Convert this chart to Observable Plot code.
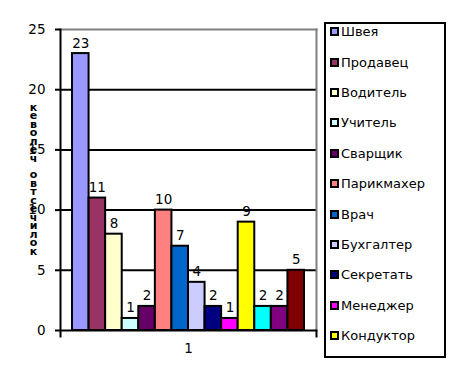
<!DOCTYPE html>
<html>
<head>
<meta charset="utf-8">
<script src="https://cdn.jsdelivr.net/npm/d3@7"></script>
<script src="https://cdn.jsdelivr.net/npm/@observablehq/plot@0.6"></script>
<style>
  html, body { margin: 0; padding: 0; background: #fff; }
  #wrap { position: relative; width: 452px; height: 380px; overflow: hidden; }
  #legend { position: absolute; left: 324px; top: 22px; width: 122px; height: 336px; box-sizing: border-box;
            border: 2px solid #000; background: #fff; font-family: "DejaVu Sans", sans-serif; font-size: 13px; }
  .item { position: absolute; left: 4px; height: 16px; display: flex; align-items: center; white-space: nowrap; }
  .sw { width: 5px; height: 5px; border: 2px solid #000; margin-right: 2px; }
</style>
</head>
<body>
<div id="wrap"></div>
<script>
const categories = ["Швея","Продавец","Водитель","Учитель","Сварщик","Парикмахер","Врач","Бухгалтер","Секретать","Менеджер","Кондуктор","Ряд12","Ряд13","Ряд14"];
const values = [23, 11, 8, 1, 2, 10, 7, 4, 2, 1, 9, 2, 2, 5];
const colors = ["#9999FF","#993366","#FFFFCC","#CCFFFF","#660066","#FF8080","#0066CC","#CCCCFF","#000080","#FF00FF","#FFFF00","#00FFFF","#800080","#800000"];
const legendNames = categories.slice(0, 11);
const yTicks = [0, 5, 10, 15, 20, 25];
const gridValues = [5, 10, 15, 20];
const xLabel = "1";
const yLabel = "кеволеч овтсечилок";

const data = categories.map((name, i) => ({name, value: values[i]}));

const W = 452, H = 380, mL = 60, mR = 136, mT = 29, mB = 50;
const font = "DejaVu Sans";

const chart = Plot.plot({
  width: W, height: H,
  marginLeft: mL, marginRight: mR, marginTop: mT, marginBottom: mB,
  style: {fontFamily: font, fontSize: "13.5px", background: "#fff", color: "#000"},
  x: {domain: categories, paddingInner: 0, paddingOuter: 0.725, round: false, axis: null},
  y: {domain: [0, 25], axis: null},
  color: {domain: categories, range: colors},
  marks: [
    Plot.ruleY(gridValues, {stroke: "#000", strokeWidth: 2}),
    Plot.frame({anchor: "top", stroke: "#808080", strokeWidth: 2}),
    Plot.frame({anchor: "right", stroke: "#808080", strokeWidth: 2}),
    Plot.barY(data, {x: "name", y: "value", fill: "name", stroke: "#000", strokeWidth: 2}),
    Plot.ruleY([0], {stroke: "#000", strokeWidth: 2}),
    Plot.frame({anchor: "left", stroke: "#000", strokeWidth: 2, insetBottom: -6}),
    Plot.frame({anchor: "right", stroke: "#000", strokeWidth: 2, insetTop: H - mT - mB, insetBottom: -6}),
    Plot.axisY({ticks: yTicks, tickSize: 5, tickPadding: 10, strokeWidth: 2, fontSize: 13.5, label: null, tickFormat: d => String(d)}),
    Plot.text(data, {x: "name", y: "value", text: d => String(d.value), lineAnchor: "bottom", dy: -6, fontSize: 13.5, fill: "#000"}),
    Plot.text([yLabel], {text: d => d.split("").join("\n"), frameAnchor: "left", dx: -27, textAnchor: "middle", lineAnchor: "middle", fontWeight: "bold", fontSize: 11, lineHeight: 0.77, fill: "#000"}),
    Plot.text([xLabel], {text: d => d, frameAnchor: "bottom", dy: 18, lineAnchor: "middle", fontSize: 13.5, fill: "#000"})
  ]
});
document.getElementById("wrap").appendChild(chart);

const legend = document.createElement("div");
legend.id = "legend";
legendNames.forEach((name, i) => {
  const item = document.createElement("div");
  item.className = "item";
  const center = 31.7 + 30.4 * i;   // absolute y of the entry's centre
  item.style.top = (center - 22 - 2 - 8) + "px";
  const sw = document.createElement("div");
  sw.className = "sw";
  sw.style.background = colors[i];
  const label = document.createElement("span");
  label.textContent = name;
  item.appendChild(sw);
  item.appendChild(label);
  legend.appendChild(item);
});
document.getElementById("wrap").appendChild(legend);
</script>
</body>
</html>
